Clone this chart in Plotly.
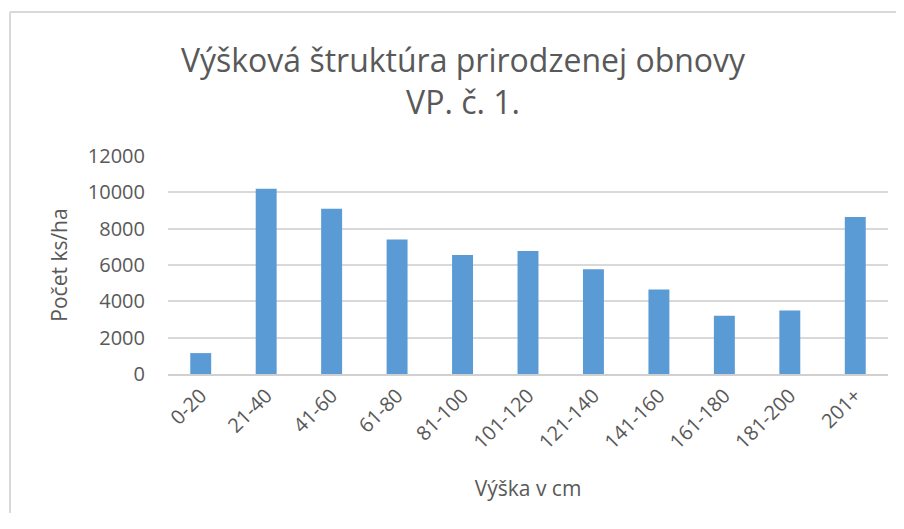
import plotly.graph_objects as go

categories = ["0-20", "21-40", "41-60", "61-80", "81-100", "101-120",
              "121-140", "141-160", "161-180", "181-200", "201+"]
values = [1150, 10200, 9100, 7400, 6550, 6770, 5760, 4650, 3200, 3490, 8640]
y_ticks = [0, 2000, 4000, 6000, 8000, 10000, 12000]
y_tick_text = ["0", "2000", "4000", "6000", "8000", "10000", "12000"]

title_text = "Výšková štruktúra prirodzenej obnovy<br>VP. č. 1."
x_title = "Výška v cm"
y_title = "Počet ks/ha"

OFF = 8  # page body margin
W, H = 904 - OFF, 529 - 3 * OFF
L, R, T, B = 168 - OFF, W - (888 - OFF), 156 - OFF, H - (374 - OFF)
FONT = "Open Sans"
TXT = "#595959"

fig = go.Figure(go.Bar(x=categories, y=values, marker_color="#5B9BD5",
                       marker_line_width=0))

pw = W - L - R
ph = H - T - B
def px_to_paper_x(px):
    return (px - OFF - L) / pw
def px_to_paper_y(py):
    return (H - B - (py - OFF)) / ph

border = dict(color="#D9D9D9", width=2)
fig.update_layout(
    width=W, height=H,
    margin=dict(l=L, r=R, t=T, b=B, autoexpand=False),
    paper_bgcolor="white", plot_bgcolor="white",
    bargap=0.68,
    showlegend=False,
    font=dict(family=FONT, color=TXT),
    title=dict(text=title_text, x=(463 - OFF) / W, xref="container", xanchor="center",
               y=1 - (72 - OFF) / H, yref="container", yanchor="middle",
               font=dict(family=FONT, size=32, color=TXT)),
    xaxis=dict(tickangle=-45, tickfont=dict(size=20, color=TXT),
               showline=True, linecolor="#D0D0D0", linewidth=2,
               ticks="", showgrid=False,
               title=dict(text=x_title, font=dict(size=21, color=TXT), standoff=28)),
    yaxis=dict(range=[0, 12000], tickvals=y_ticks, ticktext=y_tick_text,
               tickfont=dict(size=20, color=TXT),
               gridcolor="#D9D9D9", gridwidth=2, zeroline=False, ticks="",
               showline=False, ticklabelstandoff=22,
               title=dict(text=y_title, font=dict(size=21, color=TXT), standoff=14)),
    shapes=[
        dict(type="line", xref="paper", yref="paper",
             x0=px_to_paper_x(10), x1=px_to_paper_x(920),
             y0=px_to_paper_y(12), y1=px_to_paper_y(12), line=border, layer="below"),
        dict(type="line", xref="paper", yref="paper",
             x0=px_to_paper_x(10), x1=px_to_paper_x(10),
             y0=px_to_paper_y(12), y1=px_to_paper_y(560), line=border, layer="below"),
    ],
)

fig.write_html("out.html")
